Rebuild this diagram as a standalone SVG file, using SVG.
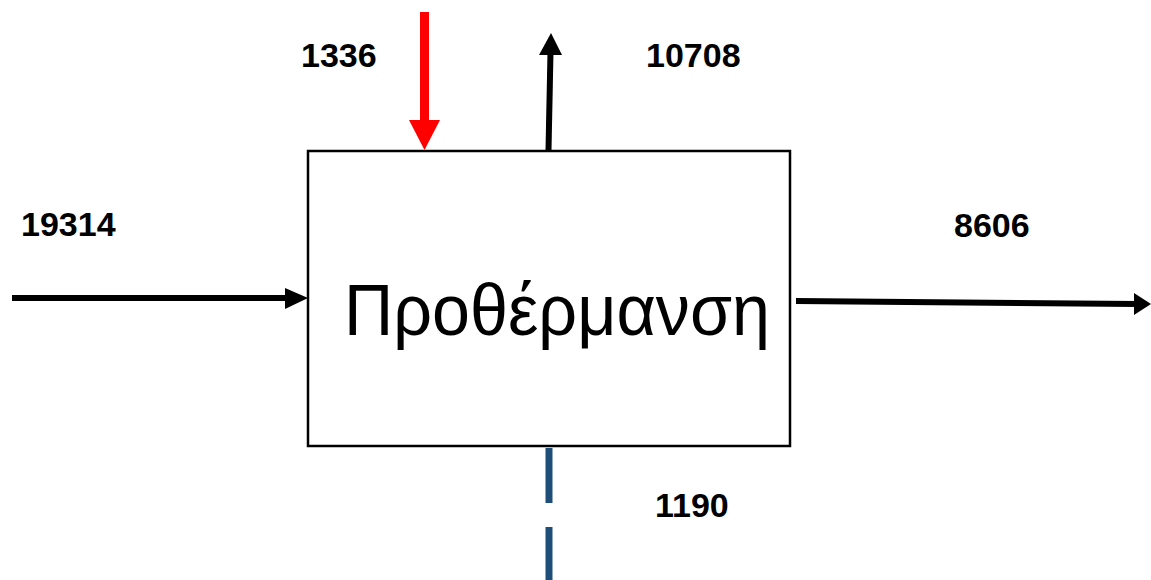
<svg xmlns="http://www.w3.org/2000/svg" width="1151" height="580" viewBox="0 0 1151 580">
  <style>
    .num { font-family: "Liberation Sans", Arial, sans-serif; font-weight: bold; font-size: 34px; fill: #000; }
    .title { font-family: "Liberation Sans", Arial, sans-serif; font-size: 73px; fill: #000; }
    .flow { stroke: #000; stroke-width: 6; fill: none; }
  </style>
  <rect width="1151" height="580" fill="#fff"/>

  <g id="process">
    <rect x="308" y="151" width="482" height="295" fill="#fff" stroke="#000" stroke-width="2.5"/>
    <text class="title" x="344" y="335" textLength="426" lengthAdjust="spacingAndGlyphs">Προθέρμανση</text>
  </g>

  <g id="connectors">
    <!-- feed in from the left -->
    <line class="flow" x1="12" y1="298" x2="288" y2="298"/>
    <polygon points="285,288 308,298 285,309" fill="#000"/>
    <!-- product out to the right -->
    <line class="flow" x1="796" y1="301" x2="1137" y2="304"/>
    <polygon points="1134,293 1151,304 1134,315" fill="#000"/>
    <!-- heat supply from the top (red) -->
    <line x1="424.5" y1="12" x2="424.5" y2="122" stroke="#ff0000" stroke-width="9"/>
    <polygon points="409,120 440,120 424.5,150" fill="#ff0000"/>
    <!-- vapour out at the top -->
    <line class="flow" x1="548.5" y1="150" x2="550.5" y2="52"/>
    <polygon points="539,55 562,55 551,33" fill="#000"/>
    <!-- dashed outlet at the bottom -->
    <line x1="549" y1="448" x2="549" y2="503" stroke="#1f4e79" stroke-width="7"/>
    <line x1="549" y1="527" x2="549" y2="580" stroke="#1f4e79" stroke-width="7"/>
  </g>

  <g id="labels">
    <text class="num" x="301" y="67">1336</text>
    <text class="num" x="646" y="67">10708</text>
    <text class="num" x="21" y="236">19314</text>
    <text class="num" x="954" y="237">8606</text>
    <text class="num" x="655" y="517">1190</text>
  </g>
</svg>
